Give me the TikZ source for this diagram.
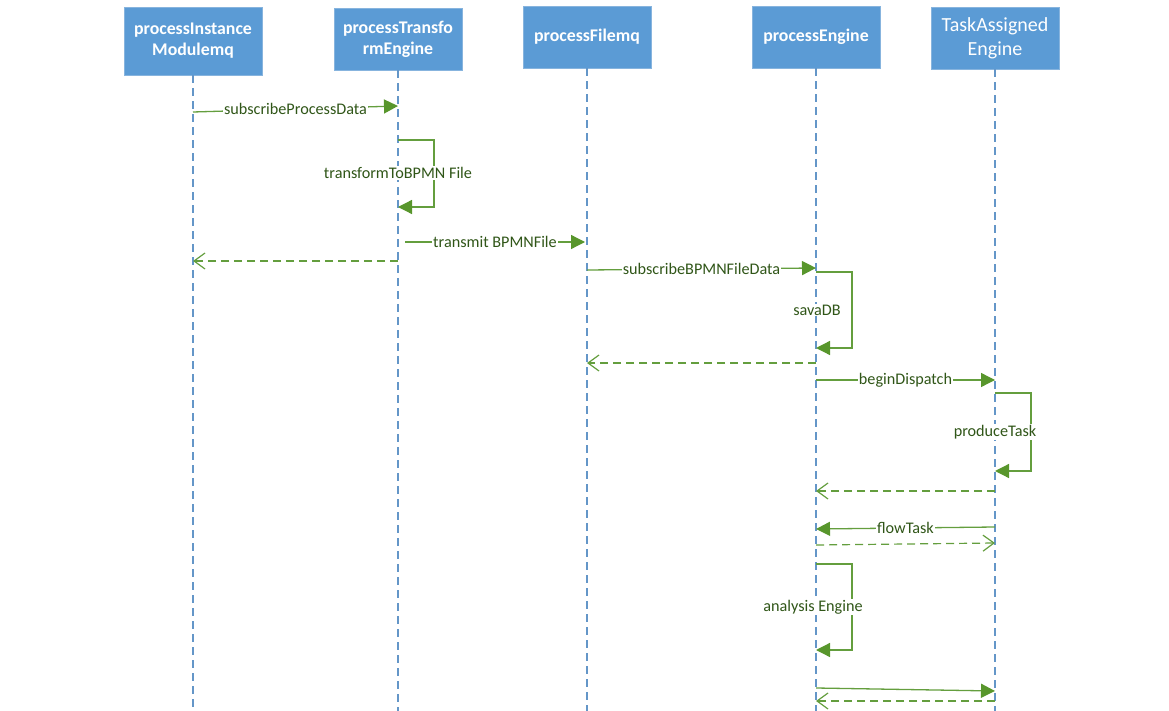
\documentclass[tikz,border=0pt]{standalone}
\usepackage{fontspec}
\setmainfont{Carlito}
\usetikzlibrary{arrows.meta}
\definecolor{boxblue}{RGB}{91,155,213}
\definecolor{boxedge}{RGB}{135,180,222}
\definecolor{lifeblue}{RGB}{100,150,200}
\definecolor{msggreen}{RGB}{100,158,62}
\definecolor{tipgreen}{RGB}{88,150,44}
\definecolor{txtgreen}{RGB}{48,86,24}

\begin{document}
\begin{tikzpicture}[x=1pt,y=-1pt,
  actor/.style={draw=boxedge, fill=boxblue, text=white,
    font=\fontsize{17.8}{21}\selectfont\bfseries, align=center,
    minimum width=128pt, minimum height=62pt, inner sep=0pt, line width=0.8pt},
  lifeline/.style={draw=lifeblue, line width=1.2pt, dash pattern=on 8pt off 5pt},
  msg/.style={draw=msggreen, line width=1.3pt,
    -{Triangle[length=14pt,width=14pt,color=tipgreen]}},
  ret/.style={draw=msggreen, line width=1.2pt, dash pattern=on 8pt off 5pt,
    -{Straight Barb[length=11pt,width=16pt]}},
  lbl/.style={fill=white, text=txtgreen, font=\fontsize{16.2}{18}\selectfont, inner sep=1pt},
]
\useasboundingbox (0,0) rectangle (1169,711);

% participants
\node[actor, minimum width=138pt, minimum height=68pt] (pim) at (193,41) {processInstance\\Modulemq};
\node[actor] (pte) at (398,39) {processTransfo\\rmEngine};
\node[actor] (pfm) at (587,37) {processFilemq};
\node[actor] (pe)  at (816,37) {processEngine};
\node[actor, font=\fontsize{20}{24}\selectfont] (tae) at (995,38) {TaskAssigned\\Engine};

% lifelines
\foreach \p in {pim,pte,pfm,pe,tae}
  \draw[lifeline] (\p.south) -- (\p.south |- 0,711);

% messages
\draw[msg] (pim.south |- 0,112) -- (pte.south |- 0,106)
  node[lbl, midway] {subscribeProcessData};

\draw[msg] (pte.south |- 0,140) -- ++(36,0) -- ++(0,67) -- (pte.south |- 0,207);
\node[lbl] (l2) at (398,173) {transformToBPMN File};

\draw[ret] (pte.south |- 0,261) -- (pim.south |- 0,261);

\draw[msg] ([xshift=7pt]pte.south |- 0,242) -- ([xshift=-2pt]pfm.south |- 0,242)
  node[lbl, midway] {transmit BPMNFile};

\draw[msg] (pfm.south |- 0,270) -- (pe.south |- 0,268)
  node[lbl, midway] {subscribeBPMNFileData};

\draw[msg] (pe.south |- 0,272) -- ++(36,0) -- ++(0,76) -- (pe.south |- 0,348);
\node[lbl] (l6) at (817,310) {savaDB};

\draw[ret] (pe.south |- 0,363) -- (pfm.south |- 0,363);

\draw[msg] (pe.south |- 0,380) -- (tae.south |- 0,380)
  node[lbl, midway] {beginDispatch};

\draw[msg] (tae.south |- 0,393) -- ++(36,0) -- ++(0,78) -- (tae.south |- 0,471);
\node[lbl] (l9) at (995,432) {produceTask};

\draw[ret] (tae.south |- 0,491) -- (pe.south |- 0,491);

\draw[msg] (tae.south |- 0,527) -- (pe.south |- 0,529)
  node[lbl, midway] {flowTask};

\draw[ret] (pe.south |- 0,545) -- (tae.south |- 0,543);

\draw[msg] (pe.south |- 0,564) -- ++(36,0) -- ++(0,86) -- (pe.south |- 0,650);
\node[lbl] (l13) at (813,607) {analysis Engine};

\draw[msg] (pe.south |- 0,688) -- (tae.south |- 0,691);

\draw[ret] (tae.south |- 0,701) -- (pe.south |- 0,701);
\end{tikzpicture}
\end{document}
